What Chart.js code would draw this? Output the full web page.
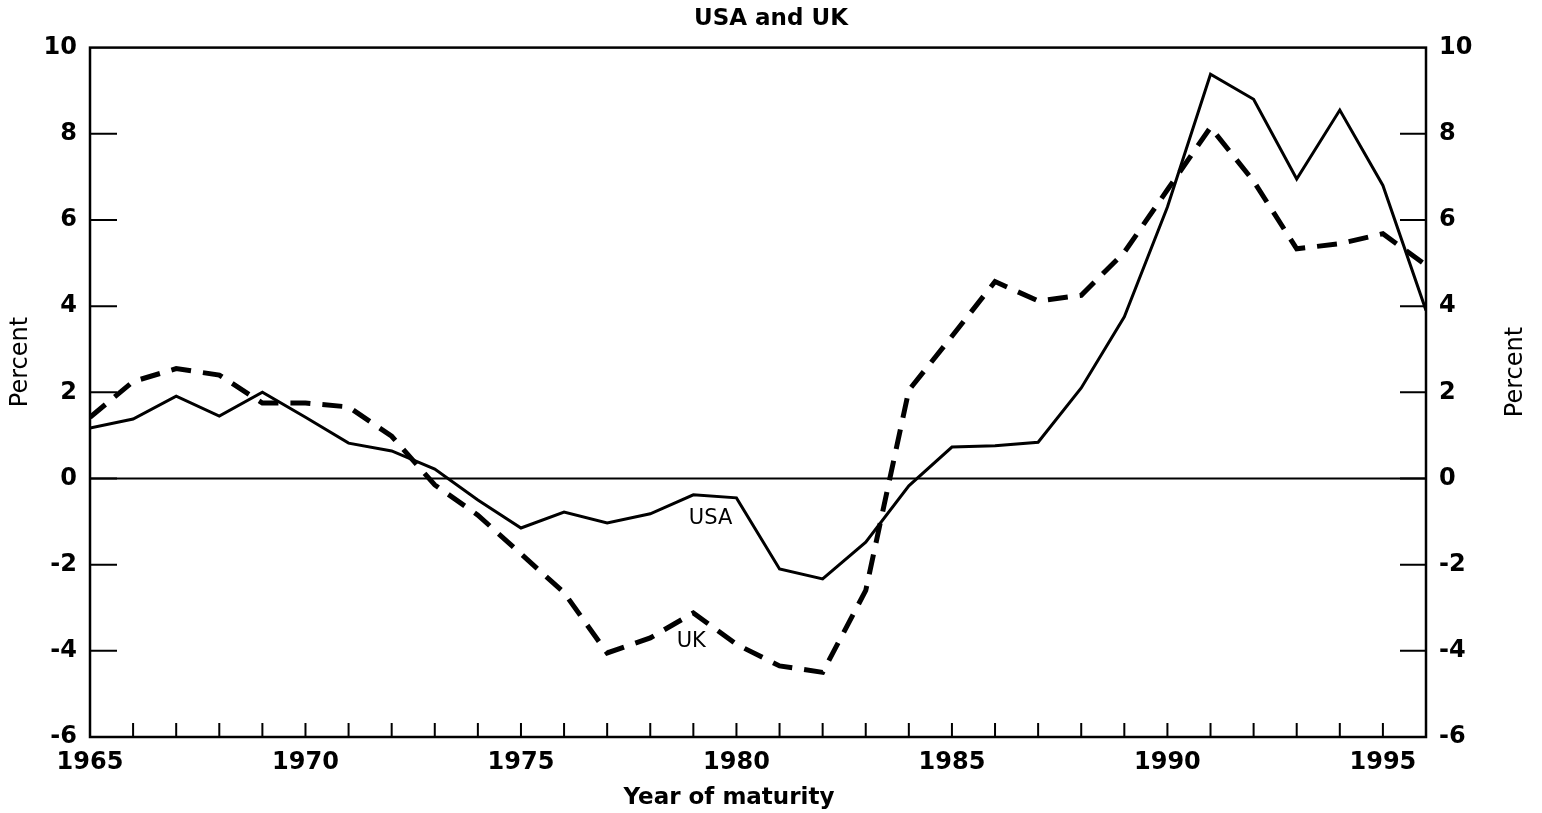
<!DOCTYPE html>
<html>
<head>
<meta charset="utf-8">
<title>USA and UK</title>
<script src="https://cdn.jsdelivr.net/npm/chart.js@4.4.0/dist/chart.umd.min.js"></script>
<style>
  html, body { margin: 0; padding: 0; background: #fff; }
  canvas { display: block; }
</style>
</head>
<body>
<canvas id="chart" width="1542" height="813"></canvas>
<script>
// data (percent, by year of maturity)
const years = [1965, 1966, 1967, 1968, 1969, 1970, 1971, 1972, 1973, 1974, 1975,
  1976, 1977, 1978, 1979, 1980, 1981, 1982, 1983, 1984, 1985, 1986,
  1987, 1988, 1989, 1990, 1991, 1992, 1993, 1994, 1995, 1996];
const usa = [1.17, 1.38, 1.91, 1.45, 2.0, 1.42, 0.82, 0.64, 0.22, -0.5, -1.15,
  -0.78, -1.03, -0.82, -0.38, -0.45, -2.1, -2.33, -1.48, -0.17, 0.73, 0.76,
  0.84, 2.1, 3.75, 6.3, 9.38, 8.8, 6.95, 8.55, 6.8, 3.9];
const uk = [1.42, 2.25, 2.55, 2.4, 1.75, 1.75, 1.66, 0.98, -0.15, -0.85, -1.75,
  -2.65, -4.05, -3.7, -3.12, -3.85, -4.35, -4.5, -2.6, 2.05, 3.3, 4.57,
  4.12, 4.25, 5.25, 6.7, 8.15, 6.9, 5.33, 5.45, 5.68, 4.95];
const yTicks = [-6, -4, -2, 0, 2, 4, 6, 8, 10];
const xTickYears = [1965, 1970, 1975, 1980, 1985, 1990, 1995];
const seriesLabels = ['USA', 'UK'];
const labelAt = [[1979.4, -0.92], [1978.95, -3.79]];

const ctx = document.getElementById('chart').getContext('2d');

// 框线、刻度、零线和文字标注
const decorations = {
  id: 'decorations',
  beforeDatasetsDraw(chart) {
    const { ctx, chartArea: a, scales: { y } } = chart;
    const y0 = y.getPixelForValue(0);
    ctx.save();
    ctx.strokeStyle = '#000';
    ctx.lineWidth = 2;
    ctx.beginPath();
    ctx.moveTo(a.left, y0);
    ctx.lineTo(a.right, y0);
    ctx.stroke();
    ctx.restore();
  },
  afterDatasetsDraw(chart) {
    const { ctx, chartArea: a, scales: { x, y } } = chart;
    ctx.save();
    ctx.strokeStyle = '#000';
    ctx.lineWidth = 2.5;
    ctx.strokeRect(a.left, a.top, a.right - a.left, a.bottom - a.top);

    ctx.lineWidth = 2;
    ctx.beginPath();
    yTicks.slice(1, -1).forEach(v => {
      const py = y.getPixelForValue(v);
      ctx.moveTo(a.left, py); ctx.lineTo(a.left + 27, py);
      ctx.moveTo(a.right - 26, py); ctx.lineTo(a.right, py);
    });
    years.slice(1, -1).forEach(yr => {
      const px = x.getPixelForValue(yr);
      ctx.moveTo(px, a.bottom); ctx.lineTo(px, a.bottom - 14);
    });
    ctx.stroke();

    // series labels inside the plot
    ctx.fillStyle = '#000';
    ctx.textAlign = 'center';
    ctx.textBaseline = 'middle';
    ctx.font = '21px "DejaVu Sans"';
    seriesLabels.forEach((t, i) => {
      ctx.fillText(t, x.getPixelForValue(labelAt[i][0]), y.getPixelForValue(labelAt[i][1]));
    });

    // axis titles
    ctx.font = 'bold 23px "DejaVu Sans"';
    ctx.fillText('Year of maturity', 729, 798);
    ctx.font = '24px "DejaVu Sans"';
    [[21, 362], [1516, 372]].forEach(([tx, ty]) => {
      ctx.save();
      ctx.translate(tx, ty);
      ctx.rotate(-Math.PI / 2);
      ctx.fillText('Percent', 0, 0);
      ctx.restore();
    });
    ctx.restore();
  }
};

const tickFont = { family: '"DejaVu Sans"', size: 24, weight: 'bold' };

new Chart(ctx, {
  type: 'line',
  data: {
    datasets: [
      {
        label: 'USA',
        data: years.map((yr, i) => ({ x: yr, y: usa[i] })),
        borderColor: '#000',
        borderWidth: 3,
        pointRadius: 0,
        tension: 0,
        fill: false
      },
      {
        label: 'UK',
        data: years.map((yr, i) => ({ x: yr, y: uk[i] })),
        borderColor: '#000',
        borderWidth: 5,
        borderDash: [20, 12],
        borderCapStyle: 'butt',
        pointRadius: 0,
        tension: 0,
        fill: false
      }
    ]
  },
  options: {
    responsive: false,
    animation: false,
    devicePixelRatio: 1,
    layout: { padding: 0 },
    plugins: {
      legend: { display: false },
      tooltip: { enabled: false },
      title: {
        display: true,
        text: 'USA and UK',
        color: '#000',
        font: { family: '"DejaVu Sans"', size: 23, weight: 'bold', lineHeight: 1.2 },
        padding: { top: 5, bottom: 15 }
      }
    },
    scales: {
      x: {
        type: 'linear',
        min: 1965,
        max: 1996,
        afterFit(s) { s.height = 76; },
        afterBuildTicks(s) { s.ticks = xTickYears.map(v => ({ value: v })); },
        grid: { display: false, drawTicks: false },
        border: { display: false },
        ticks: {
          color: '#000',
          font: { family: '"DejaVu Sans"', size: 24, weight: 'bold' },
          padding: 11,
          maxRotation: 0,
          autoSkip: false,
          callback: v => String(v)
        }
      },
      y: {
        position: 'left',
        min: -6,
        max: 10,
        afterFit(s) { s.width = 90; },
        afterBuildTicks(s) { s.ticks = yTicks.map(v => ({ value: v })); },
        grid: { display: false, drawTicks: false },
        border: { display: false },
        ticks: { color: '#000', font: tickFont, padding: 13 }
      },
      y2: {
        position: 'right',
        min: -6,
        max: 10,
        afterFit(s) { s.width = 116; },
        afterBuildTicks(s) { s.ticks = yTicks.map(v => ({ value: v })); },
        grid: { display: false, drawTicks: false },
        border: { display: false },
        ticks: { color: '#000', font: tickFont, padding: 13 }
      }
    }
  },
  plugins: [decorations]
});
</script>
</body>
</html>
